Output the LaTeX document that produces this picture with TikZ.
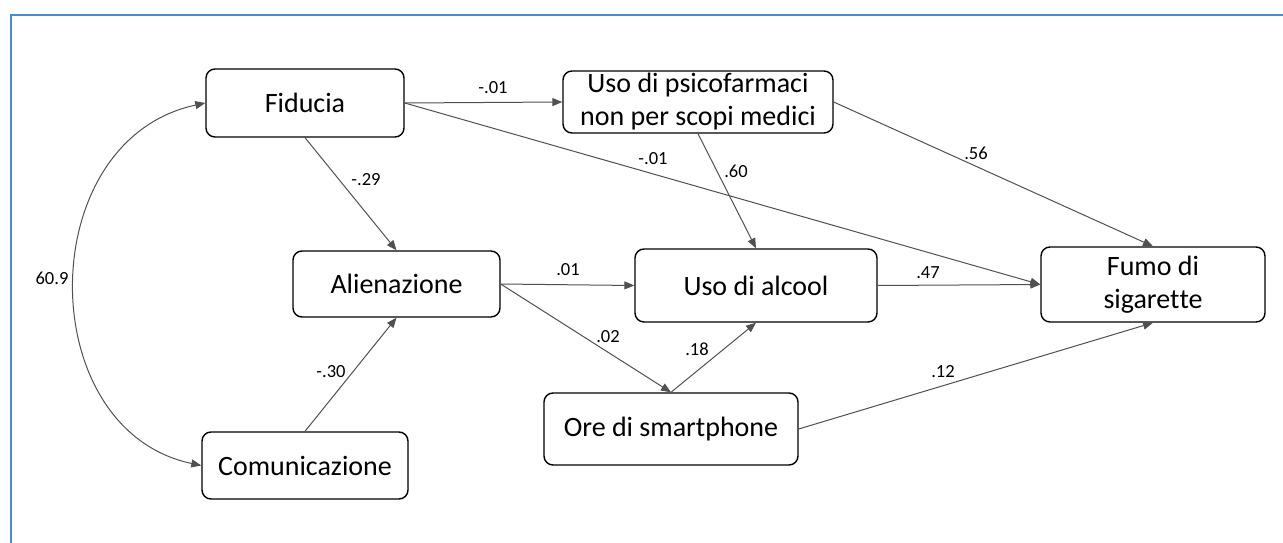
\documentclass[tikz,border=0pt]{standalone}
\usepackage{fontspec}
\setmainfont[Ligatures={NoCommon,NoContextual},Contextuals=NoAlternate]{Carlito}
\usetikzlibrary{arrows.meta}
\definecolor{frameblue}{RGB}{74,140,208}
\definecolor{linkgray}{RGB}{80,80,80}
\tikzset{
  var/.style={draw=black, line width=1.4pt, rounded corners=9pt, fill=white,
    align=center, inner sep=0pt, font=\fontsize{28}{33}\selectfont},
  path/.style={draw=linkgray, line width=1pt,
    -{Triangle[length=10pt,width=8pt]}},
  cov/.style={draw=linkgray, line width=1pt,
    {Triangle[length=10pt,width=8pt]}-{Triangle[length=10pt,width=8pt]}},
  coef/.style={font=\fontsize{18.5}{22}\selectfont, inner sep=0pt}
}
\begin{document}
\begin{tikzpicture}[x=1pt,y=-1pt]
  \useasboundingbox (0,0) rectangle (1283,543);
  % outer frame (open to the right and bottom)
  \draw[frameblue, line width=2pt] (1290,15) -- (11,15) -- (11,550);

  % variables
  \node[var, minimum width=198pt, minimum height=68pt] (fid) at (305,103) {Fiducia};
  \node[var, minimum width=270pt, minimum height=62pt] (psi) at (698,102)
    {Uso di psicofarmaci\\non per scopi medici};
  \node[var, minimum width=207pt, minimum height=66pt] (ali) at (396.5,284) {Alienazione};
  \node[var, minimum width=206pt, minimum height=67pt] (com) at (305,465.5) {Comunicazione};
  \node[var, minimum width=242pt, minimum height=73pt] (alc) at (756,285.5) {Uso di alcool};
  \node[var, minimum width=254pt, minimum height=72pt] (ore) at (671,429) {Ore di smartphone};
  \node[var, minimum width=224pt, minimum height=75pt] (fum) at (1153,284.5) {Fumo di\\sigaret\kern0pt te};

  % covariance between the exogenous variables
  \draw[cov] (fid.west) .. controls (32,140) and (32,430) .. (com.west);

  % structural paths
  \draw[path] (fid.east) -- (psi.west);
  \draw[path] (fid.east) -- (fum.west);
  \draw[path] (fid.south) -- (ali.north);
  \draw[path] (com.north) -- (ali.south);
  \draw[path] (psi.south) -- (alc.north);
  \draw[path] (psi.east) -- (fum.north);
  \draw[path] (ali.east) -- (alc.west);
  \draw[path] (ali.east) -- (ore.north);
  \draw[path] (ore.north) -- (alc.south);
  \draw[path] (alc.east) -- (fum.west);
  \draw[path] (ore.east) -- (fum.south);

  % coefficients
  \node[coef] (c-fid-psi) at (493,88) {-.01};
  \node[coef] (c-fid-fum) at (653,159) {-.01};
  \node[coef] (c-fid-ali) at (366,180) {-.29};
  \node[coef] (c-com-ali) at (331,372) {-.30};
  \node[coef] (c-psi-alc) at (736,171) {.60};
  \node[coef] (c-psi-fum) at (976,153) {.56};
  \node[coef] (c-ali-alc) at (568,270) {.01};
  \node[coef] (c-ali-ore) at (608,337) {.02};
  \node[coef] (c-ore-alc) at (697,349) {.18};
  \node[coef] (c-alc-fum) at (928,273) {.47};
  \node[coef] (c-ore-fum) at (943,372) {.12};
  \node[coef] (c-cov) at (52,278) {60.9};
\end{tikzpicture}
\end{document}
